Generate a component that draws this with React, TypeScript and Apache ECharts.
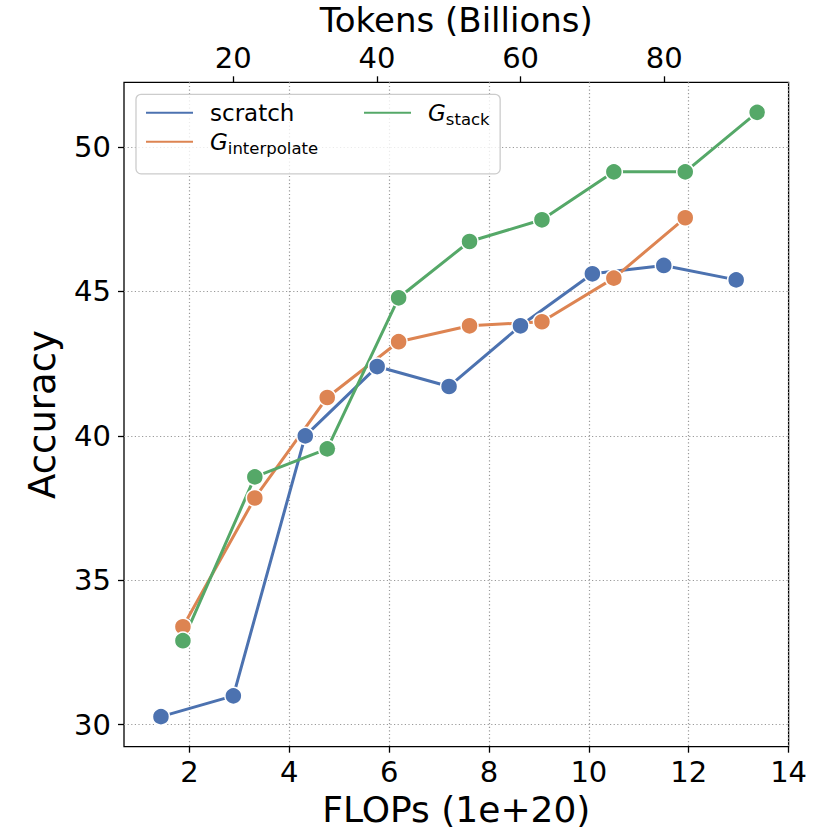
import React, { useEffect, useRef } from "react";
import * as echarts from "echarts";

const flopsTicks = [2, 4, 6, 8, 10, 12, 14];
const tokenTicks = [20, 40, 60, 80];
const accTicks = [30, 35, 40, 45, 50];

const scratchX = [1.43, 2.88, 4.32, 5.76, 7.2, 8.63, 10.07, 11.5, 12.95];
const scratchY = [30.28, 31.0, 40.0, 42.4, 41.71, 43.81, 45.61, 45.9, 45.4];
const interpX = [1.87, 3.31, 4.76, 6.19, 7.61, 9.06, 10.5, 11.93];
const interpY = [33.39, 37.85, 41.33, 43.26, 43.81, 43.95, 45.46, 47.55];
const stackX = [1.87, 3.31, 4.76, 6.19, 7.61, 9.06, 10.5, 11.93, 13.37];
const stackY = [32.91, 38.58, 39.55, 44.78, 46.73, 47.48, 49.14, 49.14, 51.2];

const FONT = "DejaVu Sans";
const colors = { scratch: "#4C72B0", interp: "#DD8452", stack: "#55A868" };

const zip = (xs: number[], ys: number[]) => xs.map((x, i) => [x, ys[i]]);

const legendRich = {
  n: { fontFamily: FONT, fontSize: 23, lineHeight: 30, color: "#000", verticalAlign: "middle" },
  g: { fontFamily: FONT, fontSize: 23, lineHeight: 30, fontStyle: "italic", color: "#000", verticalAlign: "middle" },
  s: { fontFamily: FONT, fontSize: 16.5, lineHeight: 20, color: "#000", verticalAlign: "bottom" },
};

const legendFormatter = (name: string) => {
  if (name.startsWith("G_")) return `{g|G}{s|${name.slice(2)}}`;
  return `{n|${name}}`;
};

export default function App() {
  const ref = useRef<HTMLDivElement>(null);
  useEffect(() => {
    if (!ref.current) return;
    const chart = echarts.init(ref.current, undefined, { renderer: "svg" });
    const splitLine = {
      show: true,
      lineStyle: { color: "#999", width: 1.2, type: [1.2, 2.4] as any },
    };
    const tickLabel = { fontFamily: FONT, fontSize: 29, color: "#000" };
    const nameStyle = { fontFamily: FONT, fontSize: 36, lineHeight: 30, color: "#000" };
    const seriesBase = {
      type: "line" as const,
      symbol: "circle",
      symbolSize: 17,
      emphasis: { disabled: true },
    };
    chart.setOption({
      animation: false,
      backgroundColor: "#fff",
      grid: {
        left: 124,
        right: 41.4,
        top: 82.3,
        bottom: 83.3,
        containLabel: false,
        outerBoundsMode: "none",
        show: true,
        borderColor: "#000",
        borderWidth: 1.3,
        backgroundColor: "transparent",
      },
      legend: [
        {
          data: [
            { name: "scratch", icon: "rect" },
            { name: "G_interpolate", icon: "rect" },
          ],
          orient: "vertical",
          left: 136,
          top: 94.3,
          padding: [7, 182, 17, 8],
          itemWidth: 49,
          itemHeight: 4,
          itemGap: 6,
          borderColor: "#ccc",
          borderWidth: 1.3,
          borderRadius: 5,
          backgroundColor: "rgba(255,255,255,0.8)",
          formatter: legendFormatter,
          textStyle: { padding: [0, 0, 0, 11], rich: legendRich },
          selectedMode: false,
        },
        {
          data: [{ name: "G_stack", icon: "rect" }],
          orient: "vertical",
          left: 362,
          top: 101.3,
          padding: 0,
          itemWidth: 49,
          itemHeight: 4,
          formatter: legendFormatter,
          textStyle: { padding: [0, 0, 0, 11], rich: legendRich },
          selectedMode: false,
        },
      ],
      xAxis: [
        {
          type: "value",
          position: "bottom",
          min: 0.69,
          max: 14,
          name: "FLOPs (1e+20)",
          nameLocation: "middle",
          nameGap: 48,
          nameTextStyle: nameStyle,
          axisLine: { show: false },
          axisTick: {
            show: true,
            inside: false,
            length: 6,
            customValues: flopsTicks,
            lineStyle: { color: "#000", width: 1.3 },
          },
          axisLabel: { ...tickLabel, margin: 11, customValues: flopsTicks },
          splitLine,
        },
        {
          type: "value",
          position: "top",
          min: 4.8,
          max: 97.3,
          name: "Tokens (Billions)",
          nameLocation: "middle",
          nameGap: 47,
          nameMoveOverlap: false,
          nameTextStyle: { ...nameStyle, fontSize: 34 },
          axisLine: { show: false },
          axisTick: {
            show: true,
            inside: false,
            length: 6,
            customValues: tokenTicks,
            lineStyle: { color: "#000", width: 1.3 },
          },
          axisLabel: { ...tickLabel, margin: 10, customValues: tokenTicks },
          splitLine: { show: false },
        },
      ],
      yAxis: {
        type: "value",
        min: 29.24,
        max: 52.24,
        name: "Accuracy",
        nameLocation: "middle",
        nameGap: 63,
        nameTextStyle: { fontFamily: FONT, fontSize: 37, color: "#000" },
        axisLine: { show: false },
        axisTick: {
          show: true,
          inside: false,
          length: 6,
          customValues: accTicks,
          lineStyle: { color: "#000", width: 1.3 },
        },
        axisLabel: { ...tickLabel, margin: 13, customValues: accTicks },
        splitLine,
      },
      series: [
        {
          ...seriesBase,
          name: "scratch",
          data: zip(scratchX, scratchY),
          itemStyle: { color: colors.scratch, borderColor: "#fff", borderWidth: 1.5 },
          lineStyle: { width: 3, color: colors.scratch },
        },
        {
          ...seriesBase,
          name: "G_interpolate",
          data: zip(interpX, interpY),
          itemStyle: { color: colors.interp, borderColor: "#fff", borderWidth: 1.5 },
          lineStyle: { width: 3, color: colors.interp },
        },
        {
          ...seriesBase,
          name: "G_stack",
          data: zip(stackX, stackY),
          itemStyle: { color: colors.stack, borderColor: "#fff", borderWidth: 1.5 },
          lineStyle: { width: 3, color: colors.stack },
        },
      ],
    });
    return () => chart.dispose();
  }, []);
  return (
    <div
      ref={ref}
      style={{ position: "fixed", left: 0, top: 0, width: 830, height: 830, background: "#fff" }}
    />
  );
}
